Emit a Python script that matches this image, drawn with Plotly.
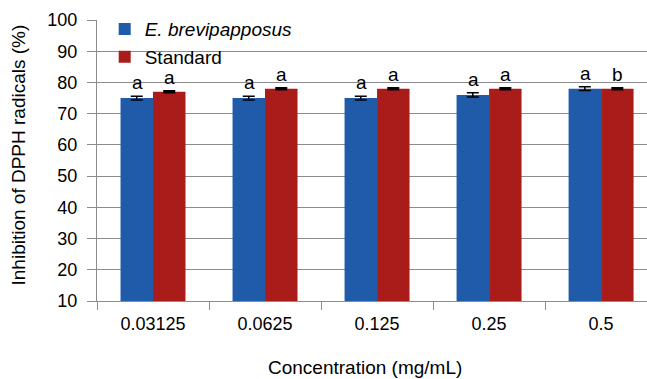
import plotly.graph_objects as go

categories = ["0.03125", "0.0625", "0.125", "0.25", "0.5"]
extract_vals = [75, 75, 75, 76, 78]
extract_err = [0.6, 0.6, 0.6, 0.7, 0.6]
standard_vals = [77, 78, 78, 78, 78]
standard_err = [0.25, 0.25, 0.25, 0.25, 0.25]
extract_letters = ["a", "a", "a", "a", "a"]
standard_letters = ["a", "a", "a", "a", "b"]
y_ticks = [10, 20, 30, 40, 50, 60, 70, 80, 90, 100]

BLUE = "#1F5BA8"
RED = "#AA1C1A"
GRID = "#8C8C8C"
FONT = "Liberation Sans, Arial, Helvetica, sans-serif"

fig = go.Figure()
fig.add_trace(go.Bar(
    x=categories, y=extract_vals, name="<i>E. brevipapposus</i>",
    marker=dict(color=BLUE, line=dict(width=0)),
    error_y=dict(type="data", array=extract_err, color="black", thickness=1.5, width=6),
))
fig.add_trace(go.Bar(
    x=categories, y=standard_vals, name="Standard",
    marker=dict(color=RED, line=dict(width=0)),
    error_y=dict(type="data", array=standard_err, color="black", thickness=2, width=6),
))

annotations = []
for i, (v, e, t) in enumerate(zip(extract_vals, extract_err, extract_letters)):
    annotations.append(dict(x=i, y=v + e, text=t, xref="x", yref="y", showarrow=False,
                            xshift=-16, yanchor="bottom", yshift=1,
                            font=dict(size=19, color="black", family=FONT)))
for i, (v, e, t) in enumerate(zip(standard_vals, standard_err, standard_letters)):
    annotations.append(dict(x=i, y=v + e, text=t, xref="x", yref="y", showarrow=False,
                            xshift=16, yanchor="bottom", yshift=1,
                            font=dict(size=19, color="black", family=FONT)))

annotations.append(dict(text="Concentration (mg/mL)", xref="paper", yref="paper",
                        x=(365 - 97) / 550, y=0, yshift=-66, xanchor="center", yanchor="middle",
                        showarrow=False, font=dict(size=19, color="black", family=FONT)))
annotations.append(dict(text="Inhibition of DPPH radicals (%)", xref="paper", yref="paper",
                        x=0, xshift=-79, y=0.5, yshift=5, textangle=-90, xanchor="center",
                        yanchor="middle", showarrow=False,
                        font=dict(size=19, color="black", family=FONT)))

fig.update_layout(
    width=647, height=379,
    margin=dict(l=97, r=0, t=20, b=78),
    paper_bgcolor="white", plot_bgcolor="white",
    barmode="group", bargap=0.42, bargroupgap=0,
    font=dict(family=FONT, size=18, color="black"),
    showlegend=True,
    legend=dict(x=0.014, y=1.035, xanchor="left", yanchor="top",
                bgcolor="rgba(255,255,255,0)", font=dict(size=19, family=FONT),
                tracegroupgap=0, itemwidth=30, traceorder="normal"),
    annotations=annotations,
)
fig.update_xaxes(
    type="category", range=[-0.5, 4.41], tickson="boundaries",
    ticks="outside", ticklen=8, tickcolor=GRID, tickwidth=1,
    showline=True, linecolor=GRID, linewidth=1,
    showgrid=False, ticklabelstandoff=6,
    tickfont=dict(size=18, family=FONT, color="black"),
)
fig.update_yaxes(
    range=[10, 100], tickvals=y_ticks,
    ticks="outside", ticklen=9, tickcolor=GRID, tickwidth=1,
    showline=True, linecolor=GRID, linewidth=1,
    showgrid=True, gridcolor=GRID, gridwidth=1,
    zeroline=False, ticklabelstandoff=6,
    tickfont=dict(size=18, family=FONT, color="black"),
)

fig.write_html("out.html")
